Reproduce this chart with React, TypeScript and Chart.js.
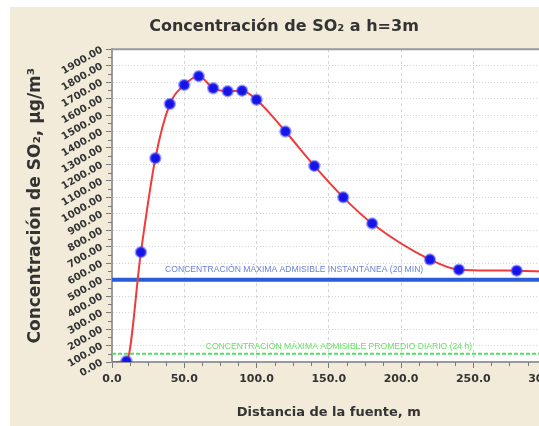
import { useEffect, useRef } from 'react';
import { Chart, registerables } from 'chart.js';

Chart.register(...registerables);

const TITLE = 'Concentración de SO₂ a h=3m';
const X_TITLE = 'Distancia de la fuente, m';
const Y_TITLE = 'Concentración de SO₂, µg/m³';

const DISTANCE = [0, 10, 20, 30, 40, 50, 60, 70, 80, 90, 100, 120, 140, 160, 180, 220, 240, 280, 300];
const CONCENTRATION = [0, 5, 667, 1238, 1567, 1683, 1736, 1663, 1645, 1648, 1593, 1400, 1191, 1000, 841, 622, 561, 555, 550];

const X_MIN = 0;
const X_MAX = 300;
const X_STEP = 50;
const Y_MIN = 0;
const Y_MAX = 1900;
const Y_STEP = 100;

const LIMIT_INST = 500;
const LIMIT_24H = 50;
const LIMIT_INST_LABEL = 'CONCENTRACIÓN MÁXIMA ADMISIBLE INSTANTÁNEA (20 MIN)';
const LIMIT_24H_LABEL = 'CONCENTRACIÓN MÁXIMA ADMISIBLE PROMEDIO DIARIO (24 h)';
const LIMIT_INST_LABEL_AT = 126;
const LIMIT_24H_LABEL_AT = 157;

const FONT = '"DejaVu Sans", Verdana, sans-serif';
const SMALL_FONT = '"Liberation Sans", Arial, sans-serif';

const decor = {
  id: 'decor',
  beforeDraw(chart: any) {
    const { ctx, chartArea: a } = chart;
    ctx.save();
    ctx.fillStyle = '#ffffff';
    ctx.fillRect(a.left, a.top, a.right - a.left, a.bottom - a.top);
    ctx.restore();
  },
  afterDraw(chart: any) {
    const { ctx, chartArea: a, scales } = chart;
    const xs = scales.x;
    const ys = scales.y;
    ctx.save();
    ctx.strokeStyle = '#9a9a9a';
    ctx.lineWidth = 2;
    ctx.beginPath();
    ctx.moveTo(a.left - 1, a.top);
    ctx.lineTo(a.right + 20, a.top);
    ctx.stroke();
    ctx.strokeStyle = '#7a7a7a';
    ctx.lineWidth = 1;
    ctx.beginPath();
    for (let v = Y_MIN + Y_STEP / 2; v < Y_MAX; v += Y_STEP) {
      const py = Math.round(ys.getPixelForValue(v)) + 0.5;
      ctx.moveTo(a.left - 4, py);
      ctx.lineTo(a.left, py);
    }
    for (let v = X_MIN + X_STEP / 4; v < X_MAX; v += X_STEP / 4) {
      if (v % X_STEP === 0) continue;
      const px = Math.round(xs.getPixelForValue(v)) + 0.5;
      ctx.moveTo(px, a.bottom);
      ctx.lineTo(px, a.bottom + 4);
    }
    ctx.stroke();
    ctx.font = `8.6px ${SMALL_FONT}`;
    ctx.textAlign = 'center';
    ctx.textBaseline = 'bottom';
    ctx.fillStyle = '#6a82d8';
    ctx.fillText(LIMIT_INST_LABEL, xs.getPixelForValue(LIMIT_INST_LABEL_AT), ys.getPixelForValue(LIMIT_INST) - 6);
    ctx.fillStyle = '#66e066';
    ctx.fillText(LIMIT_24H_LABEL, xs.getPixelForValue(LIMIT_24H_LABEL_AT), ys.getPixelForValue(LIMIT_24H) - 3);
    ctx.restore();
  },
};

export default function App() {
  const ref = useRef<HTMLCanvasElement | null>(null);

  useEffect(() => {
    if (!ref.current) return;
    const series = DISTANCE.map((x, i) => ({ x, y: CONCENTRATION[i] }));
    const inst = [X_MIN, X_MAX].map((x) => ({ x, y: LIMIT_INST }));
    const daily = [X_MIN, X_MAX].map((x) => ({ x, y: LIMIT_24H }));

    const chart = new Chart(ref.current, {
      type: 'line',
      data: {
        datasets: [
          {
            data: series,
            borderColor: '#f23a3a',
            borderWidth: 2,
            cubicInterpolationMode: 'monotone',
            pointRadius: (c: any) => (c.dataIndex === 0 ? 0 : 5),
            pointBackgroundColor: '#1414e6',
            pointBorderColor: 'rgba(70,70,255,0.5)',
            pointBorderWidth: 2.5,
          },
          {
            data: inst,
            borderColor: '#2a5cd8',
            borderWidth: 4,
            pointRadius: 0,
          },
          {
            data: daily,
            borderColor: '#55dd66',
            borderWidth: 2,
            borderDash: [4, 2],
            pointRadius: 0,
          },
        ],
      },
      options: {
        animation: false,
        responsive: false,
        maintainAspectRatio: false,
        events: [],
        layout: { padding: 0 },
        plugins: {
          legend: { display: false },
          tooltip: { enabled: false },
          title: {
            display: true,
            text: TITLE,
            color: '#333333',
            font: { family: FONT, size: 16, weight: 'bold' },
            padding: { top: 17, bottom: 13 },
          },
        },
        scales: {
          x: {
            type: 'linear',
            min: X_MIN,
            max: X_MAX,
            afterFit: (s: any) => {
              s.height = 64;
            },
            ticks: {
              stepSize: X_STEP,
              maxRotation: 0,
              minRotation: 0,
              autoSkip: false,
              padding: 5,
              color: '#333333',
              font: { family: FONT, size: 11, weight: 'bold' },
              callback: (v: any) => Number(v).toFixed(1),
            },
            grid: {
              color: '#d4d4d4',
              tickColor: '#7a7a7a',
              tickLength: 6,
              tickBorderDash: [],
            },
            border: { display: true, color: '#9a9a9a', width: 2, dash: [3, 3] },
            title: {
              display: true,
              text: X_TITLE,
              color: '#333333',
              font: { family: FONT, size: 13, weight: 'bold' },
              padding: { top: 0, bottom: 6 },
            },
          },
          y: {
            min: Y_MIN,
            max: Y_MAX,
            afterFit: (s: any) => {
              s.width = 112;
            },
            ticks: {
              stepSize: Y_STEP,
              minRotation: 30,
              maxRotation: 30,
              autoSkip: false,
              padding: 4,
              color: '#333333',
              font: { family: FONT, size: 10, weight: 'bold' },
              callback: (v: any) => Number(v).toFixed(2),
            },
            grid: {
              color: '#d4d4d4',
              tickColor: '#7a7a7a',
              tickLength: 6,
              tickBorderDash: [],
            },
            border: { display: true, color: '#9a9a9a', width: 2, dash: [1, 2] },
            title: {
              display: true,
              text: Y_TITLE,
              color: '#333333',
              font: { family: FONT, size: 17, weight: 'bold' },
              padding: { top: 25, bottom: 0 },
            },
          },
        },
      },
      plugins: [decor],
    });
    return () => chart.destroy();
  }, []);

  return (
    <div
      style={{
        position: 'fixed',
        left: 0,
        top: 0,
        width: 539,
        height: 426,
        overflow: 'hidden',
        background: '#ffffff',
      }}
    >
      <div
        style={{
          position: 'absolute',
          left: 10,
          top: 7,
          width: 529,
          height: 419,
          background: '#f3ebd9',
        }}
      />
      <canvas
        ref={ref}
        width={568}
        height={426}
        style={{ position: 'absolute', left: 0, top: 0, width: 568, height: 426 }}
      />
    </div>
  );
}
